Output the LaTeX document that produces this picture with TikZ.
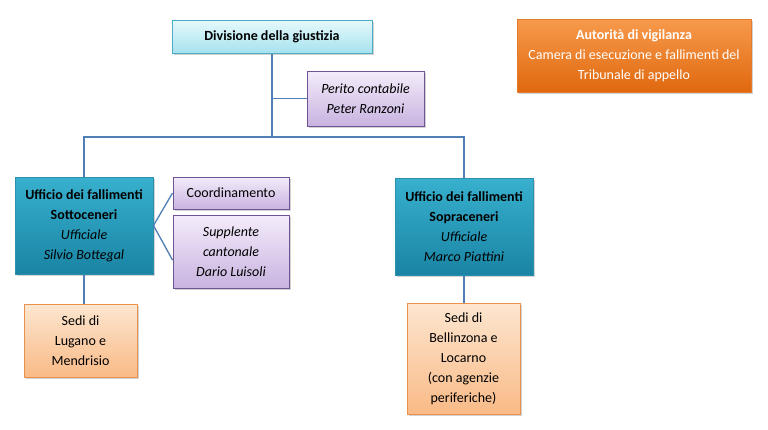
\documentclass[tikz,border=0pt]{standalone}
\usepackage{fontspec}
\setmainfont{Carlito}
\usetikzlibrary{shadows}
\definecolor{conn}{HTML}{4F7FB5}
\definecolor{cyanT}{HTML}{E6F9FC}
\definecolor{cyanB}{HTML}{A6E2EE}
\definecolor{cyanD}{HTML}{4BACC6}
\definecolor{lavT}{HTML}{F4ECFA}
\definecolor{lavB}{HTML}{C8B3E0}
\definecolor{lavD}{HTML}{6E5494}
\definecolor{tealT}{HTML}{38B0CE}
\definecolor{tealB}{HTML}{1A84A4}
\definecolor{tealD}{HTML}{2C8FAE}
\definecolor{peaT}{HTML}{FDE6D0}
\definecolor{peaB}{HTML}{F9BA86}
\definecolor{peaD}{HTML}{E8924E}
\definecolor{orT}{HTML}{F79A4C}
\definecolor{orB}{HTML}{E0680E}
\definecolor{orD}{HTML}{E57A2A}
\tikzset{
  box/.style={rectangle, align=center, inner sep=2pt, font=\fontsize{14}{20}\selectfont,
    drop shadow={shadow xshift=1.5pt, shadow yshift=-1.5pt, opacity=0.35}},
  cyanbox/.style={box, draw=cyanD, line width=1pt, top color=cyanT, bottom color=cyanB},
  lavbox/.style={box, draw=lavD, line width=1pt, top color=lavT, bottom color=lavB},
  tealbox/.style={box, draw=tealD, line width=1pt, top color=tealT, bottom color=tealB},
  peabox/.style={box, draw=peaD, line width=1pt, top color=peaT, bottom color=peaB},
  orbox/.style={box, draw=orD, line width=1pt, top color=orT, bottom color=orB, text=white},
  link/.style={draw=conn, line width=1.3pt}
}
\begin{document}
\begin{tikzpicture}[x=1pt,y=-1pt]
\useasboundingbox[fill=white] (0,0) rectangle (768,429);
\node[cyanbox, minimum width=200pt, minimum height=33pt] (div) at (272,36.5) {\textbf{Divisione della giustizia}};
\node[lavbox, minimum width=117pt, minimum height=55pt] (per) at (365.5,98.5) {\textit{Perito contabile}\\\textit{Peter Ranzoni}};
\node[tealbox, minimum width=138pt, minimum height=97pt] (lu) at (84,225.5) {\textbf{Ufficio dei fallimenti}\\\textbf{Sottoceneri}\\\textit{Ufficiale}\\\textit{Silvio Bottegal}};
\node[lavbox, minimum width=116pt, minimum height=32pt] (co) at (231,193) {Coordinamento};
\node[lavbox, minimum width=116pt, minimum height=73pt] (su) at (231,251.5) {\textit{Supplente}\\\textit{cantonale}\\\textit{Dario Luisoli}};
\node[peabox, minimum width=113pt, minimum height=73pt] (sl) at (80.5,340.5) {Sedi di\\Lugano e\\Mendrisio};
\node[tealbox, minimum width=138pt, minimum height=97pt] (ru) at (464,226.5) {\textbf{Ufficio dei fallimenti}\\\textbf{Sopraceneri}\\\textit{Ufficiale}\\\textit{Marco Piattini}};
\node[peabox, minimum width=113pt, minimum height=111pt] (sb) at (463.5,358.5) {Sedi di\\Bellinzona e\\Locarno\\(con agenzie\\periferiche)};
\node[orbox, minimum width=234pt, minimum height=73pt] (aut) at (634,55.5) {\textbf{Autorità di vigilanza}\\Camera di esecuzione e fallimenti del\\Tribunale di appello};
\coordinate (j) at (272,137);
\path[link] (div.south) -- (j);
\path[link] (div.south |- per.west) -- (per.west);
\path[link] (lu.north) |- (j) -| (ru.north);
\path[link] (lu.east) -- (co.west);
\path[link] (lu.east) -- ([yshift=-8.5pt]su.west);
\path[link] (lu.south) -- (sl.north -| lu.south);
\path[link] (ru.south) -- (sb.north -| ru.south);
\end{tikzpicture}
\end{document}
